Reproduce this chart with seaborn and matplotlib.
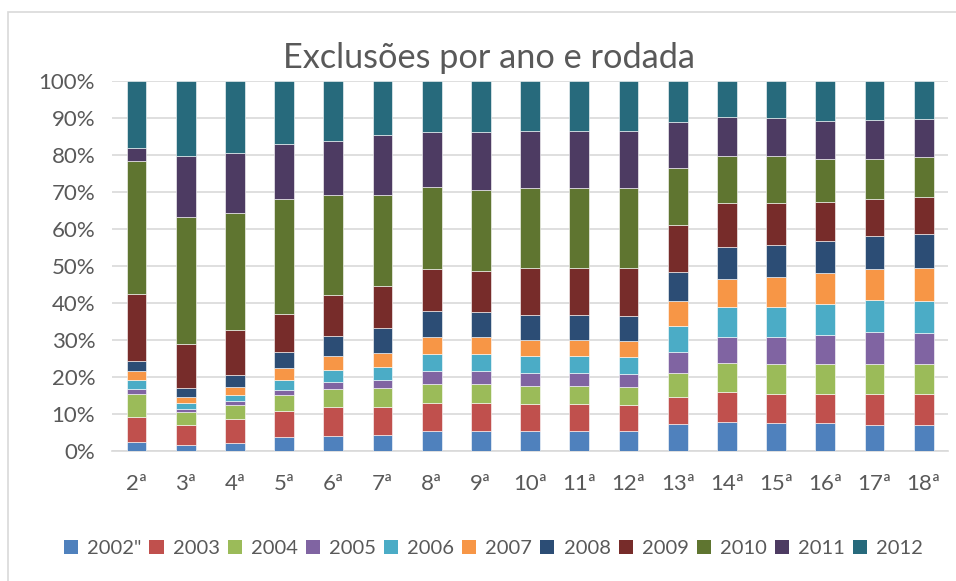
import numpy as np
import pandas as pd
import matplotlib.pyplot as plt
import seaborn as sns
from matplotlib.patches import Rectangle, Patch

# Rodadas
rodadas = ['2ª', '3ª', '4ª', '5ª', '6ª', '7ª', '8ª', '9ª', '10ª',
           '11ª', '12ª', '13ª', '14ª', '15ª', '16ª', '17ª', '18ª']

# Exclusões (%) por ano em cada rodada
ano_2002 = [2.3, 1.6, 2.0, 3.7, 4.1, 4.2, 5.3, 5.5, 5.3, 5.3, 5.3, 7.4, 7.8, 7.6, 7.5, 7.1, 7.0]
ano_2003 = [6.9, 5.5, 6.7, 7.2, 7.9, 7.6, 7.7, 7.5, 7.4, 7.4, 7.2, 7.3, 8.2, 7.9, 7.9, 8.3, 8.4]
ano_2004 = [6.2, 3.5, 3.6, 4.2, 4.7, 5.1, 5.1, 5.1, 4.9, 4.9, 4.8, 6.3, 7.7, 7.9, 8.2, 8.1, 8.1]
ano_2005 = [1.4, 0.8, 1.1, 1.3, 1.9, 2.2, 3.6, 3.6, 3.5, 3.5, 3.5, 5.8, 7.2, 7.5, 7.8, 8.6, 8.4]
ano_2006 = [2.4, 1.6, 1.6, 2.7, 3.4, 3.6, 4.6, 4.6, 4.6, 4.6, 4.5, 7.1, 7.9, 8.1, 8.3, 8.6, 8.7]
ano_2007 = [2.5, 1.6, 2.2, 3.3, 3.7, 3.9, 4.5, 4.4, 4.3, 4.3, 4.4, 6.7, 7.6, 8.0, 8.3, 8.5, 9.0]
ano_2008 = [2.5, 2.3, 3.2, 4.4, 5.5, 6.7, 7.0, 6.8, 6.7, 6.7, 6.7, 7.7, 8.7, 8.6, 8.7, 8.9, 9.0]
ano_2009 = [18.3, 12.1, 12.2, 10.3, 11.1, 11.4, 11.3, 11.3, 12.9, 12.9, 13.2, 12.8, 11.9, 11.6, 10.6, 10.1, 10.1]
ano_2010 = [36.0, 34.3, 31.7, 31.0, 26.9, 24.5, 22.3, 21.8, 21.4, 21.4, 21.4, 15.4, 12.7, 12.5, 11.7, 10.8, 10.8]
ano_2011 = [3.4, 16.6, 16.2, 14.9, 14.7, 16.4, 15.0, 15.7, 15.5, 15.5, 15.5, 12.5, 10.7, 10.4, 10.4, 10.5, 10.3]
ano_2012 = [18.1, 20.1, 19.5, 17.0, 16.1, 14.4, 13.6, 13.7, 13.5, 13.5, 13.5, 11.0, 9.6, 9.9, 10.6, 10.5, 10.2]

anos = ['2002"', '2003', '2004', '2005', '2006', '2007', '2008', '2009', '2010', '2011', '2012']
cores = ['#4F81BD', '#C0504D', '#9BBB59', '#8064A2', '#4BACC6', '#F79646',
         '#2C4D75', '#772C2A', '#5F7530', '#4D3B62', '#276A7C']

df = pd.DataFrame([ano_2002, ano_2003, ano_2004, ano_2005, ano_2006, ano_2007,
                   ano_2008, ano_2009, ano_2010, ano_2011, ano_2012],
                  index=anos, columns=rodadas).T
# 100% empilhado
df = df.div(df.sum(axis=1), axis=0) * 100

sns.set_style('white')
plt.rcParams['font.family'] = ['Lato', 'DejaVu Sans']
cinza = '#595959'

fig = plt.figure(figsize=(9.56, 5.81), dpi=100)
ax = fig.add_axes([0.117, 0.224, 0.875, 0.636])

base = np.zeros(len(rodadas))
for ano, cor in zip(anos, cores):
    sns.barplot(x=rodadas, y=df[ano].values, bottom=base, color=cor, width=0.4,
                saturation=1, edgecolor='white', linewidth=0.4, ax=ax, zorder=3)
    base += df[ano].values

ax.set_ylim(0, 100)
ax.set_xlim(-0.5, len(rodadas) - 0.5)
ax.set_yticks(range(0, 101, 10))
ax.set_yticklabels([f'{v}%' for v in range(0, 101, 10)])
ax.yaxis.grid(True, color='#D9D9D9', linewidth=1.2, zorder=0)
ax.set_axisbelow(True)
for s in ['top', 'right', 'left']:
    ax.spines[s].set_visible(False)
ax.spines['bottom'].set_color('#D9D9D9')
ax.spines['bottom'].set_linewidth(1.2)
ax.tick_params(axis='both', length=0, colors=cinza, labelsize=16)
ax.tick_params(axis='x', pad=17)
ax.tick_params(axis='y', pad=12)
ax.set_xlabel('')
ax.set_ylabel('')

fig.text(0.512, 0.9, 'Exclusões por ano e rodada', ha='center', va='center',
         fontsize=24.7, color=cinza)

handles = [Patch(facecolor=c, edgecolor='none') for c in cores]
fig.legend(handles, anos, loc='center', bbox_to_anchor=(0.516, 0.056), ncol=11,
           frameon=False, fontsize=14.5, labelcolor=cinza, handlelength=0.7,
           handleheight=0.7, handletextpad=0.45, columnspacing=0.4)

# moldura do gráfico
fig.patches.append(Rectangle((8 / 956, -0.02), 1.1, 1 - 12 / 581 + 0.02,
                             transform=fig.transFigure, fill=False,
                             edgecolor='#D9D9D9', linewidth=1.2))

fig.savefig('out.png', dpi=100)
